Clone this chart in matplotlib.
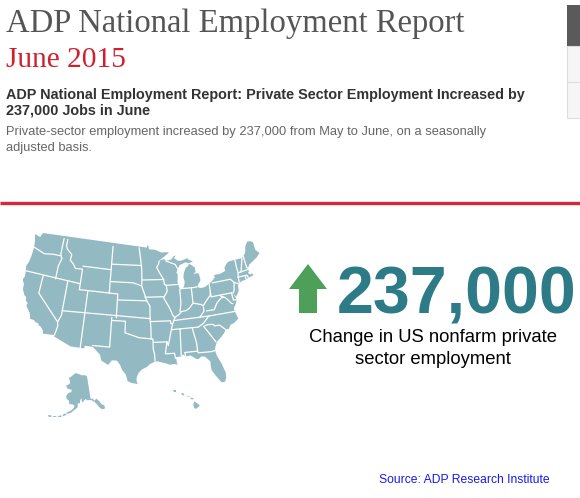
import numpy as np
import matplotlib
matplotlib.use("Agg")
import matplotlib.pyplot as plt
from matplotlib.patches import Polygon, Rectangle, FancyArrow

# ---------------- content ----------------
TITLE = "ADP National Employment Report"
MONTH = "June 2015"
HEADLINE = ["ADP National Employment Report: Private Sector Employment Increased by",
            "237,000 Jobs in June"]
BODY = ["Private-sector employment increased by 237,000 from May to June, on a seasonally",
        "adjusted basis."]
CHANGE_VALUE = 237000
CAPTION = ["Change in US nonfarm private", "sector employment"]
SOURCE = "Source: ADP Research Institute"

# ---------------- map geometry (lon, lat) ----------------
US_OUTLINE = [
    (-124.7, 48.4), (-123.2, 48.2), (-122.75, 49.0), (-95.15, 49.0), (-95.15, 49.38),
    (-94.8, 49.3), (-94.6, 48.7), (-93.0, 48.6), (-91.5, 48.1), (-90.0, 48.1), (-89.5, 48.0),
    (-90.9, 47.3), (-92.1, 46.75), (-90.8, 46.95), (-90.4, 46.6), (-89.0, 46.8),
    (-88.4, 47.3), (-87.8, 47.45), (-88.3, 47.0), (-87.4, 46.5), (-86.5, 46.45),
    (-85.0, 46.75), (-84.6, 46.45), (-83.6, 46.1), (-84.7, 45.87), (-85.5, 46.1),
    (-86.3, 45.9), (-87.0, 45.75), (-87.6, 45.1), (-88.0, 44.5), (-87.7, 44.2),
    (-87.9, 43.0), (-87.8, 42.5), (-87.6, 41.85), (-87.3, 41.6), (-86.8, 41.7),
    (-86.4, 42.2), (-86.2, 42.8), (-86.4, 43.6), (-86.2, 44.3), (-85.6, 45.2),
    (-85.0, 45.4), (-84.7, 45.78), (-84.1, 45.5), (-83.4, 45.05), (-83.3, 44.3),
    (-83.9, 43.9), (-83.0, 44.05), (-82.6, 43.85), (-82.4, 43.0), (-82.5, 42.6),
    (-82.9, 42.35), (-83.1, 42.1), (-83.4, 41.75), (-82.7, 41.45), (-81.7, 41.5),
    (-80.5, 41.95), (-79.76, 42.27), (-78.9, 42.85), (-79.05, 43.25), (-77.6, 43.25),
    (-76.2, 43.55), (-76.2, 44.15), (-75.3, 44.85), (-74.75, 45.0), (-71.5, 45.0),
    (-71.1, 45.3), (-70.8, 45.4), (-70.3, 45.9), (-70.0, 46.7), (-69.2, 47.45),
    (-68.3, 47.35), (-67.8, 47.05), (-67.8, 45.7), (-67.0, 45.0), (-68.0, 44.4),
    (-69.5, 43.85), (-70.2, 43.6), (-70.7, 43.1), (-70.8, 42.75), (-70.6, 42.6),
    (-71.0, 42.3), (-70.6, 41.95), (-70.0, 42.05), (-69.95, 41.7), (-70.4, 41.6),
    (-71.4, 41.45), (-72.0, 41.3), (-72.9, 41.25), (-73.7, 40.95), (-74.0, 40.7),
    (-74.0, 40.4), (-74.1, 39.75), (-74.95, 38.93), (-75.5, 39.5), (-75.08, 38.78),
    (-75.05, 38.45), (-75.2, 38.0), (-75.6, 37.5), (-75.95, 37.15), (-76.0, 36.92),
    (-75.8, 36.2), (-75.5, 35.25), (-76.5, 34.7), (-77.4, 34.5), (-77.9, 33.9),
    (-78.6, 33.85), (-79.2, 33.2), (-79.9, 32.7), (-80.8, 32.1), (-81.3, 31.3),
    (-81.45, 30.7), (-81.3, 29.9), (-80.6, 28.4), (-80.05, 26.7), (-80.15, 25.75),
    (-80.45, 25.2), (-81.1, 25.15), (-81.8, 26.1), (-82.2, 26.7), (-82.7, 27.5),
    (-82.75, 28.2), (-82.7, 29.0), (-83.7, 29.95), (-84.4, 30.0), (-85.0, 29.65),
    (-85.4, 29.7), (-86.5, 30.4), (-87.5, 30.3), (-88.0, 30.7), (-88.4, 30.35),
    (-89.4, 30.35), (-89.6, 30.15), (-89.4, 29.9), (-89.4, 29.4), (-89.2, 29.05),
    (-90.0, 29.2), (-90.8, 29.1), (-91.3, 29.3), (-92.3, 29.55), (-93.2, 29.78),
    (-93.85, 29.7), (-94.75, 29.35), (-95.3, 28.9), (-96.4, 28.4), (-97.0, 27.85),
    (-97.35, 27.2), (-97.4, 26.5), (-97.15, 25.95), (-98.3, 26.1), (-99.1, 26.4),
    (-99.5, 27.5), (-100.3, 28.3), (-100.7, 29.1), (-101.4, 29.8), (-102.4, 29.8),
    (-103.1, 28.97), (-104.5, 29.6), (-104.9, 30.6), (-106.0, 31.4), (-106.5, 31.78),
    (-108.2, 31.78), (-108.2, 31.33), (-111.07, 31.33), (-114.8, 32.5), (-114.72, 32.72),
    (-117.12, 32.53), (-117.3, 33.1), (-117.9, 33.6), (-118.4, 33.75), (-118.5, 34.03),
    (-119.2, 34.15), (-119.6, 34.4), (-120.5, 34.45), (-120.65, 34.9), (-120.9, 35.45),
    (-121.9, 36.3), (-121.95, 36.6), (-121.8, 36.85), (-122.4, 37.2), (-122.5, 37.8),
    (-123.0, 38.0), (-123.7, 38.9), (-123.8, 39.8), (-124.4, 40.4), (-124.1, 41.0),
    (-124.2, 41.8), (-124.5, 42.8), (-124.1, 43.7), (-123.95, 44.9), (-123.95, 46.2),
    (-124.1, 46.9), (-124.2, 47.3),
]

STATE_BORDERS = [
    [(-124.0, 46.25), (-121.0, 45.65), (-119.0, 45.95), (-116.9, 46.0)],
    [(-117.04, 49.0), (-117.04, 46.4), (-116.9, 46.0), (-116.5, 45.6), (-117.0, 44.3), (-117.0, 42.0)],
    [(-124.3, 42.0), (-111.05, 42.0)],
    [(-120.0, 42.0), (-120.0, 39.0), (-114.6, 35.0)],
    [(-114.6, 35.0), (-114.05, 36.2), (-114.05, 42.0)],
    [(-114.6, 35.0), (-114.4, 34.3), (-114.72, 32.72)],
    [(-114.05, 37.0), (-94.6, 37.0)],
    [(-116.05, 49.0), (-116.05, 47.9), (-115.7, 47.4), (-114.3, 46.6), (-114.4, 45.6),
     (-113.5, 45.1), (-112.8, 44.4), (-111.05, 44.5), (-111.05, 41.0)],
    [(-111.05, 45.0), (-104.05, 45.0)],
    [(-111.05, 41.0), (-102.05, 41.0)],
    [(-109.05, 41.0), (-109.05, 31.2)],
    [(-102.05, 41.0), (-102.05, 37.0)],
    [(-104.05, 49.0), (-104.05, 41.0)],
    [(-104.05, 43.0), (-98.5, 43.0), (-96.5, 42.5)],
    [(-103.05, 37.0), (-103.05, 32.0), (-106.6, 32.0)],
    [(-103.05, 36.5), (-100.0, 36.5), (-100.0, 34.56), (-97.0, 33.8), (-94.45, 33.6)],
    [(-94.6, 37.0), (-94.45, 35.4), (-94.45, 33.6)],
    [(-94.45, 33.6), (-94.05, 33.55), (-94.05, 31.9), (-93.8, 31.0), (-93.7, 29.6)],
    [(-94.05, 33.0), (-91.15, 33.0)],
    [(-91.15, 33.0), (-91.6, 31.0), (-89.7, 31.0), (-89.6, 30.1)],
    [(-104.05, 45.95), (-96.6, 45.95)],
    [(-97.2, 49.0), (-96.6, 46.0), (-96.5, 45.3), (-96.45, 43.5), (-96.5, 42.5),
     (-96.0, 41.5), (-95.3, 40.0), (-94.6, 39.1), (-94.6, 37.0)],
    [(-96.45, 43.5), (-91.2, 43.5)],
    [(-91.2, 43.5), (-92.0, 44.5), (-92.8, 45.6), (-92.3, 46.1), (-92.1, 46.7)],
    [(-102.05, 40.0), (-95.3, 40.0)],
    [(-95.75, 40.6), (-91.4, 40.6)],
    [(-94.6, 36.5), (-90.15, 36.5), (-90.1, 36.0), (-89.7, 36.0)],
    [(-91.2, 43.5), (-91.1, 42.7), (-90.65, 42.5), (-90.5, 41.5), (-91.4, 40.4),
     (-90.2, 38.7), (-89.5, 37.3), (-89.15, 37.0), (-89.7, 36.0), (-90.05, 35.1),
     (-90.9, 32.35), (-91.15, 33.0)],
    [(-90.65, 42.5), (-87.8, 42.5)],
    [(-90.4, 46.6), (-88.1, 45.9), (-87.6, 45.1)],
    [(-87.53, 41.7), (-87.53, 39.4), (-87.9, 37.9)],
    [(-89.15, 37.0), (-88.1, 37.5), (-87.6, 37.9), (-86.5, 38.0), (-85.8, 38.3),
     (-84.8, 39.1), (-83.0, 38.7), (-82.6, 38.4), (-82.0, 39.0), (-80.7, 40.0), (-80.52, 40.6)],
    [(-87.0, 41.75), (-84.8, 41.7), (-83.45, 41.72)],
    [(-84.8, 41.7), (-84.8, 39.1)],
    [(-89.5, 36.5), (-81.7, 36.6)],
    [(-90.1, 35.0), (-84.3, 35.0)],
    [(-84.3, 35.0), (-83.1, 35.5), (-81.7, 36.6)],
    [(-81.7, 36.6), (-75.9, 36.55)],
    [(-83.7, 36.6), (-82.6, 37.5), (-82.6, 38.2)],
    [(-82.0, 37.5), (-80.3, 37.5), (-79.5, 38.5), (-78.4, 39.2), (-77.8, 39.3)],
    [(-80.52, 39.72), (-75.8, 39.72)],
    [(-80.52, 39.72), (-80.52, 42.0)],
    [(-79.76, 42.0), (-75.4, 42.0), (-74.7, 41.35), (-75.1, 40.0), (-75.5, 39.6)],
    [(-74.7, 41.35), (-73.9, 41.0)],
    [(-78.4, 39.6), (-77.5, 39.2), (-77.0, 38.8), (-76.3, 38.0), (-76.0, 37.9)],
    [(-75.8, 39.72), (-75.7, 38.45), (-75.05, 38.45)],
    [(-88.2, 35.0), (-88.4, 30.3)],
    [(-85.6, 35.0), (-85.0, 32.3), (-85.0, 31.0)],
    [(-87.6, 31.0), (-85.0, 31.0)],
    [(-87.6, 31.0), (-87.5, 30.2)],
    [(-85.0, 31.0), (-84.9, 30.7), (-82.2, 30.6), (-81.5, 30.7)],
    [(-83.1, 35.0), (-81.0, 32.1)],
    [(-83.1, 35.0), (-82.3, 35.2), (-81.0, 35.1), (-80.8, 34.8), (-79.7, 34.8), (-78.5, 33.8)],
    [(-73.3, 45.0), (-73.35, 43.6), (-73.25, 42.75), (-73.5, 42.05), (-73.5, 41.1), (-73.7, 40.9)],
    [(-71.5, 45.0), (-72.55, 42.73)],
    [(-73.25, 42.75), (-70.8, 42.87)],
    [(-73.5, 42.05), (-71.8, 42.0), (-71.4, 42.0), (-71.1, 41.4)],
    [(-71.8, 42.0), (-71.8, 41.2)],
    [(-71.1, 45.3), (-70.98, 43.3), (-70.7, 43.0)],
]

ALASKA_OUTLINE = [
    (-141.0, 69.6), (-143.5, 70.1), (-148.0, 70.3), (-152.0, 70.8), (-156.5, 71.3),
    (-160.0, 70.6), (-163.0, 69.6), (-166.2, 68.9), (-164.5, 68.2), (-163.5, 67.1),
    (-164.5, 66.5), (-168.0, 65.6), (-165.4, 64.5), (-161.0, 64.5), (-161.0, 63.5),
    (-163.5, 63.1), (-165.0, 62.5), (-166.0, 61.5), (-165.0, 60.5), (-162.5, 59.9),
    (-162.0, 58.7), (-158.5, 58.7), (-157.0, 58.2), (-157.5, 57.5), (-159.0, 56.5),
    (-161.5, 55.8), (-164.0, 54.9), (-163.0, 54.7), (-160.0, 55.3), (-157.0, 56.5),
    (-154.0, 57.7), (-154.0, 59.2), (-151.8, 59.2), (-151.5, 60.5), (-150.0, 61.2),
    (-150.0, 59.5), (-148.0, 60.0), (-146.0, 60.7), (-144.0, 60.0), (-141.4, 60.0),
    (-139.7, 59.5), (-137.5, 58.6), (-136.5, 57.9), (-135.0, 56.5), (-133.5, 55.3),
    (-131.5, 54.7), (-130.6, 54.7), (-130.0, 55.0), (-130.0, 56.1), (-131.9, 56.8),
    (-133.5, 58.6), (-135.5, 59.8), (-137.5, 59.2), (-139.1, 60.35), (-141.0, 60.3),
]
ALEUTIANS = [(-164.0, 54.5), (-166.5, 53.7), (-169.0, 52.9), (-172.0, 52.3),
             (-175.0, 51.9), (-178.0, 51.7)]

HAWAII_ISLANDS = [
    [(-155.85, 20.25), (-154.8, 19.5), (-155.6, 18.9), (-155.9, 19.1), (-156.05, 19.7)],
    [(-156.7, 20.9), (-156.0, 20.8), (-156.0, 20.6), (-156.4, 20.58)],
    [(-157.3, 21.2), (-156.7, 21.15), (-156.7, 21.05), (-157.3, 21.1)],
    [(-158.3, 21.6), (-157.95, 21.7), (-157.65, 21.3), (-158.1, 21.3)],
    [(-159.8, 22.2), (-159.3, 22.2), (-159.3, 21.9), (-159.7, 21.9)],
]

# ---------------- colours ----------------
MAP_COLOR = "#93b9c3"
TEAL = "#2e7b88"
GREEN = "#4ea058"
RED = "#d0202e"
W, H = 580, 498


def albers(pts, lon0=-96.0, lat0=23.0, p1=29.5, p2=45.5):
    a = np.asarray(pts, dtype=float)
    lon, lat = np.radians(a[:, 0]), np.radians(a[:, 1])
    l0, f0, f1, f2 = np.radians([lon0, lat0, p1, p2])
    n = (np.sin(f1) + np.sin(f2)) / 2
    C = np.cos(f1) ** 2 + 2 * n * np.sin(f1)
    rho0 = np.sqrt(C - 2 * n * np.sin(f0)) / n
    rho = np.sqrt(C - 2 * n * np.sin(lat)) / n
    th = n * (lon - l0)
    return np.column_stack([rho * np.sin(th), rho0 - rho * np.cos(th)])


def px_axes(fig, x0, y0, x1, y1):
    return fig.add_axes([x0 / W, 1 - y1 / H, (x1 - x0) / W, (y1 - y0) / H])


fig = plt.figure(figsize=(W / 100, H / 100), dpi=100)
fig.patch.set_facecolor("white")

# layout axes in pixel units
bg = fig.add_axes([0, 0, 1, 1])
bg.set_xlim(0, W)
bg.set_ylim(H, 0)
bg.axis("off")

# ---- contiguous US ----
us = albers(US_OUTLINE)
ax = px_axes(fig, 22.5, 233, 259.5, 384)
ax.axis("off")
poly = Polygon(us, closed=True, facecolor=MAP_COLOR, edgecolor="none")
ax.add_patch(poly)
for line in STATE_BORDERS:
    p = albers(line)
    ln, = ax.plot(p[:, 0], p[:, 1], color="white", lw=0.9, solid_capstyle="round")
    ln.set_clip_path(poly)
ax.set_xlim(us[:, 0].min(), us[:, 0].max())
ax.set_ylim(us[:, 1].min(), us[:, 1].max())

# ---- Alaska inset ----
ak_kw = dict(lon0=-154.0, lat0=50.0, p1=55.0, p2=65.0)
ak = albers(ALASKA_OUTLINE, **ak_kw)
al = albers(ALEUTIANS, **ak_kw)
axa = px_axes(fig, 48, 373, 105, 417)
axa.axis("off")
axa.add_patch(Polygon(ak, closed=True, facecolor=MAP_COLOR, edgecolor="none"))
axa.plot(al[:, 0], al[:, 1], color=MAP_COLOR, lw=1.2, ls=(0, (2, 1)))
allp = np.vstack([ak, al])
axa.set_xlim(allp[:, 0].min(), allp[:, 0].max())
axa.set_ylim(allp[:, 1].min(), allp[:, 1].max())

# ---- Hawaii inset ----
axh = px_axes(fig, 173, 390, 200, 409)
axh.axis("off")
hall = []
for isl in HAWAII_ISLANDS:
    a = np.asarray(isl)
    hall.append(a)
    axh.add_patch(Polygon(a, closed=True, facecolor=MAP_COLOR, edgecolor="none"))
hall = np.vstack(hall)
axh.set_xlim(hall[:, 0].min(), hall[:, 0].max())
axh.set_ylim(hall[:, 1].min(), hall[:, 1].max())

# ---- text ----
renderer = fig.canvas.get_renderer()


def fit(txt, width_px):
    bb = txt.get_window_extent(renderer=renderer)
    txt.set_fontsize(txt.get_fontsize() * width_px / bb.width)


t = bg.text(6, 32, TITLE, fontsize=23, family="Liberation Serif", color="#555555", va="baseline")
fit(t, 459)
t = bg.text(6, 66.5, MONTH, fontsize=23, family="Liberation Serif", color=RED, va="baseline")
fit(t, 120)

t = bg.text(6, 98.5, HEADLINE[0], fontsize=11, family="Liberation Sans", weight="bold",
            color="#333333", va="baseline")
fit(t, 519)
hs = t.get_fontsize()
bg.text(6, 114, HEADLINE[1], fontsize=hs, family="Liberation Sans", weight="bold",
        color="#333333", va="baseline")

t = bg.text(6, 135, BODY[0], fontsize=9.5, family="Liberation Sans", color="#666666", va="baseline")
fit(t, 479)
bs = t.get_fontsize()
bg.text(6, 151, BODY[1], fontsize=bs, family="Liberation Sans", color="#666666", va="baseline")

# red rule
bg.plot([0, W], [203, 203], color="#d9263a", lw=2.4, solid_capstyle="butt")

# grey tab at top right
bg.add_patch(Rectangle((567, 5), 20, 41, facecolor="#5a5a5a", edgecolor="none"))
bg.add_patch(Rectangle((567, 46), 20, 36, facecolor="#f6f6f6", edgecolor="#dddddd", lw=0.8))
bg.add_patch(Rectangle((567, 82), 20, 36, facecolor="#f6f6f6", edgecolor="#dddddd", lw=0.8))

# up arrow
bg.add_patch(FancyArrow(308, 313, 0, -49, width=18, head_width=38, head_length=25,
                        length_includes_head=True, facecolor=GREEN, edgecolor="none"))

t = bg.text(337, 313, f"{CHANGE_VALUE:,}", fontsize=49, family="Liberation Sans", weight="bold",
            color=TEAL, va="baseline")
fit(t, 240)

t = bg.text(433, 341.5, CAPTION[0], fontsize=12.5, family="Liberation Sans", color="black",
            va="baseline", ha="center")
fit(t, 250)
cs = t.get_fontsize()
bg.text(433, 364, CAPTION[1], fontsize=cs, family="Liberation Sans", color="black",
        va="baseline", ha="center")

t = bg.text(379, 483, SOURCE, fontsize=8.8, family="Liberation Sans", color="#1a1aee", va="baseline")
fit(t, 171)

fig.savefig("out.png", dpi=100, facecolor="white")
